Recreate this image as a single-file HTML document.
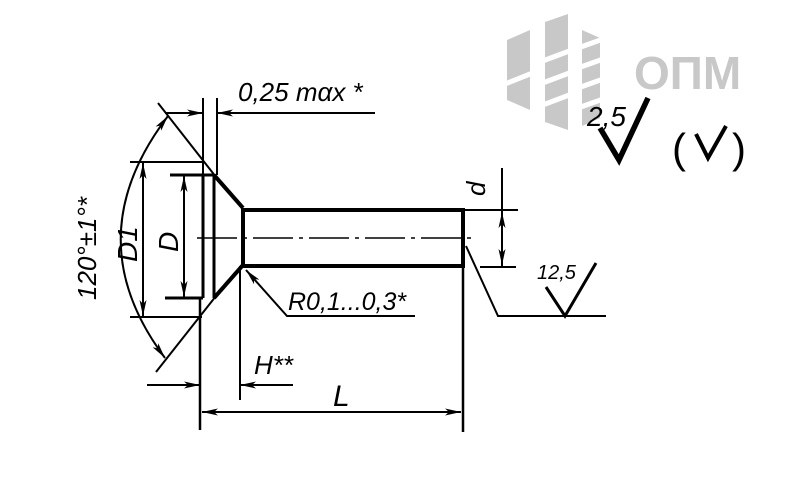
<!DOCTYPE html>
<html><head><meta charset="utf-8"><style>
html,body{margin:0;padding:0;background:#fff;}
svg{display:block;}
text{font-family:"Liberation Sans",sans-serif;font-style:italic;fill:#000;}
</style></head><body>
<svg width="812" height="484" viewBox="0 0 812 484" xmlns="http://www.w3.org/2000/svg">
<defs>
<marker id="a" viewBox="0 0 16 7" refX="16" refY="3.5" markerWidth="16" markerHeight="7" markerUnits="userSpaceOnUse" orient="auto-start-reverse">
<path d="M0,0 L16,3.5 L0,7 L4,3.5 Z" fill="#000"/></marker>
</defs>
<!-- logo -->
<g fill="#c8c8c8">
<polygon points="507,40 530,30 530,110 507,100"/>
<polygon points="545,22 568,14 568,130 545,122"/>
<polygon points="582,30 600,38 600,118 582,126"/>
</g>
<g stroke="#fff" stroke-width="5">
<line x1="500" y1="86" x2="535" y2="72"/>
<line x1="540" y1="62" x2="572" y2="50"/>
<line x1="540" y1="84" x2="572" y2="72"/>
<line x1="540" y1="106" x2="572" y2="94"/>
<line x1="578" y1="48" x2="606" y2="38"/>
<line x1="578" y1="68" x2="606" y2="58"/>
<line x1="578" y1="88" x2="606" y2="78"/>
<line x1="578" y1="108" x2="606" y2="98"/>
</g>
<text x="634" y="89" style="font-style:normal;font-weight:bold;font-size:46px;fill:#c8c8c8">ОПМ</text>
<!-- 2,5 mark -->
<text x="587" y="126" font-size="28">2,5</text>
<path d="M600,128 L619,160 L648,98" fill="none" stroke="#000" stroke-width="5.5"/>
<text x="672" y="163" font-size="42" style="font-style:normal">(</text>
<path d="M696,134 L708,158 L726,126" fill="none" stroke="#000" stroke-width="4"/>
<text x="732" y="163" font-size="42" style="font-style:normal">)</text>
<g stroke="#000" fill="none" stroke-width="2">
<line x1="203" y1="175" x2="203" y2="298" stroke-width="3"/>
<line x1="214" y1="175" x2="214" y2="298" stroke-width="3"/>
<line x1="214" y1="175" x2="243" y2="208" stroke-width="4"/>
<line x1="214" y1="298" x2="243" y2="265" stroke-width="4"/>
<line x1="243" y1="208" x2="243" y2="266" stroke-width="4"/>
<line x1="243" y1="210" x2="463" y2="210" stroke-width="4"/>
<line x1="243" y1="266" x2="463" y2="266" stroke-width="4"/>
<line x1="463" y1="208" x2="463" y2="268" stroke-width="4"/>
<line x1="197" y1="238" x2="472" y2="238" stroke-width="1.5" stroke-dasharray="40,6,4,6"/>
<line x1="158" y1="103" x2="216" y2="177"/>
<line x1="216" y1="296" x2="156" y2="372"/>
<line x1="130" y1="162" x2="204" y2="162"/>
<line x1="130" y1="317" x2="202" y2="317"/>
<line x1="170" y1="175" x2="214" y2="175" stroke-width="3"/>
<line x1="165" y1="298" x2="203" y2="298" stroke-width="3"/>
<path d="M168,116 Q75,238 165,358" marker-start="url(#a)" marker-end="url(#a)"/>
<line x1="143" y1="163" x2="143" y2="316" marker-start="url(#a)" marker-end="url(#a)"/>
<line x1="184" y1="176" x2="184" y2="297" marker-start="url(#a)" marker-end="url(#a)"/>
<line x1="203" y1="98" x2="203" y2="175"/>
<line x1="217" y1="98" x2="217" y2="175"/>
<line x1="165" y1="113" x2="203" y2="113" marker-end="url(#a)"/>
<line x1="375" y1="113" x2="217" y2="113" marker-end="url(#a)"/>
<line x1="502" y1="168" x2="502" y2="268"/>
<line x1="463" y1="210" x2="518" y2="210"/>
<line x1="480" y1="267" x2="516" y2="267"/>
<line x1="502" y1="212" x2="502" y2="265" marker-start="url(#a)" marker-end="url(#a)"/>
<polyline points="466,246 498,316 606,316"/>
<polyline points="546,287 565,316 596,263" stroke-width="3"/>
<polyline points="415,316 287,316 246,270" marker-end="url(#a)"/>
<line x1="200" y1="298" x2="200" y2="430" stroke-width="2.5"/>
<line x1="240" y1="266" x2="240" y2="400"/>
<line x1="147" y1="385" x2="200" y2="385" marker-end="url(#a)"/>
<line x1="293" y1="385" x2="240" y2="385" marker-end="url(#a)"/>
<line x1="463" y1="266" x2="463" y2="432" stroke-width="2.5"/>
<line x1="202" y1="412" x2="461" y2="412" marker-start="url(#a)" marker-end="url(#a)"/>
</g>
<text x="238" y="101" font-size="26">0,25 mαx *</text>
<text x="288" y="310" font-size="25">R0,1...0,3*</text>
<text x="254" y="374" font-size="26">H**</text>
<text x="333" y="406" font-size="30">L</text>
<text x="537" y="279" font-size="20">12,5</text>
<text transform="translate(485,196) rotate(-90)" font-size="26">d</text>
<text transform="translate(178,252) rotate(-90)" font-size="28">D</text>
<text transform="translate(137,262) rotate(-90)" font-size="28">D1</text>
<text transform="translate(96,300) rotate(-90)" font-size="26">120°±1°*</text>
</svg>
</body></html>
